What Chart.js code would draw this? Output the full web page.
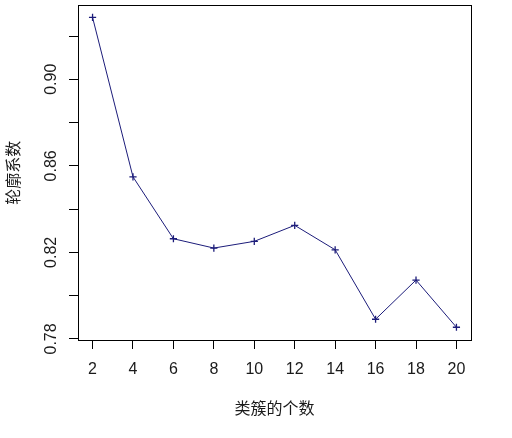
<!DOCTYPE html>
<html>
<head>
<meta charset="utf-8">
<script src="https://cdn.jsdelivr.net/npm/chart.js@4/dist/chart.umd.min.js"></script>
<style>
  html, body { margin: 0; padding: 0; background: #fff; }
  #wrap { width: 512px; height: 438px; }
</style>
</head>
<body>
<div id="wrap"><canvas id="c" width="512" height="438" style="width:512px;height:438px"></canvas></div>
<script>
// ---- data ----
const clusterCounts = [2, 4, 6, 8, 10, 12, 14, 16, 18, 20];
const silhouette = [0.9286, 0.8549, 0.8263, 0.8220, 0.8251, 0.8325, 0.8212, 0.7891, 0.8072, 0.7854];
const xTicks = [2, 4, 6, 8, 10, 12, 14, 16, 18, 20];
const xTickLabels = ['2', '4', '6', '8', '10', '12', '14', '16', '18', '20'];
const yTicks = [0.78, 0.80, 0.82, 0.84, 0.86, 0.88, 0.90, 0.92];
const yTickLabels = ['0.78', '', '0.82', '', '0.86', '', '0.90', ''];
const xTitle = '类簇的个数';
const yTitle = '轮廓系数';

const xMin = 1.28, xMax = 20.72;
const yMin = 0.7795, yMax = 0.9342;

const numFont = { family: '"Liberation Sans", Arial, sans-serif', size: 16 };
const cjkFont = { family: '"Noto Sans CJK SC", sans-serif', size: 16 };
const textColor = '#1a1a1a';

const framePlugin = {
  id: 'frame',
  afterDraw(chart) {
    const { ctx, chartArea: a, scales } = chart;
    ctx.save();
    ctx.strokeStyle = '#000';
    ctx.lineWidth = 1;
    ctx.strokeRect(Math.round(a.left) + 0.5, Math.round(a.top) + 0.5,
                   Math.round(a.right - a.left), Math.round(a.bottom - a.top));
    // rotated y tick labels (R style)
    const y = scales.y;
    ctx.fillStyle = textColor;
    ctx.font = numFont.size + 'px ' + numFont.family;
    ctx.textAlign = 'center';
    ctx.textBaseline = 'alphabetic';
    y.ticks.forEach((t) => {
      const lab = yTickLabels[yTicks.indexOf(t.value)];
      if (!lab) return;
      const py = y.getPixelForValue(t.value);
      ctx.save();
      ctx.translate(56, py);
      ctx.rotate(-Math.PI / 2);
      ctx.fillText(lab, 0, 0);
      ctx.restore();
    });
    ctx.restore();
  }
};

new Chart(document.getElementById('c'), {
  type: 'line',
  data: {
    datasets: [{
      data: clusterCounts.map((x, i) => ({ x: x, y: silhouette[i] })),
      borderColor: '#1c1c7a',
      backgroundColor: '#1c1c7a',
      borderWidth: 1,
      pointStyle: 'cross',
      pointRadius: 3.6,
      pointBorderWidth: 1.3,
      pointBorderColor: '#1c1c7a',
      tension: 0,
      fill: false
    }]
  },
  options: {
    responsive: false,
    animation: false,
    devicePixelRatio: 1,
    layout: { padding: { left: 0, top: 5, right: 41, bottom: 0 } },
    plugins: { legend: { display: false }, tooltip: { enabled: false } },
    scales: {
      x: {
        type: 'linear',
        min: xMin, max: xMax,
        afterBuildTicks: s => { s.ticks = xTicks.map(v => ({ value: v })); },
        afterFit: s => { s.height = 98; },
        grid: { drawOnChartArea: false, drawTicks: true, tickLength: 9, color: '#000', lineWidth: 1 },
        border: { display: false },
        ticks: {
          font: numFont, color: textColor, padding: 11, autoSkip: false,
          maxRotation: 0, minRotation: 0,
          callback: v => { const i = xTicks.indexOf(v); return i >= 0 ? xTickLabels[i] : ''; }
        },
        title: { display: true, text: xTitle, font: cjkFont, color: textColor, padding: { top: 0, bottom: 20 } }
      },
      y: {
        type: 'linear',
        min: yMin, max: yMax,
        afterBuildTicks: s => { s.ticks = yTicks.map(v => ({ value: v })); },
        afterFit: s => { s.width = 78; },
        grid: { drawOnChartArea: false, drawTicks: true, tickLength: 9, color: '#000', lineWidth: 1 },
        border: { display: false },
        ticks: { display: false },
        title: { display: true, text: yTitle, font: cjkFont, color: textColor, padding: { top: 3, bottom: 0 } }
      }
    }
  },
  plugins: [framePlugin]
});
</script>
</body>
</html>
